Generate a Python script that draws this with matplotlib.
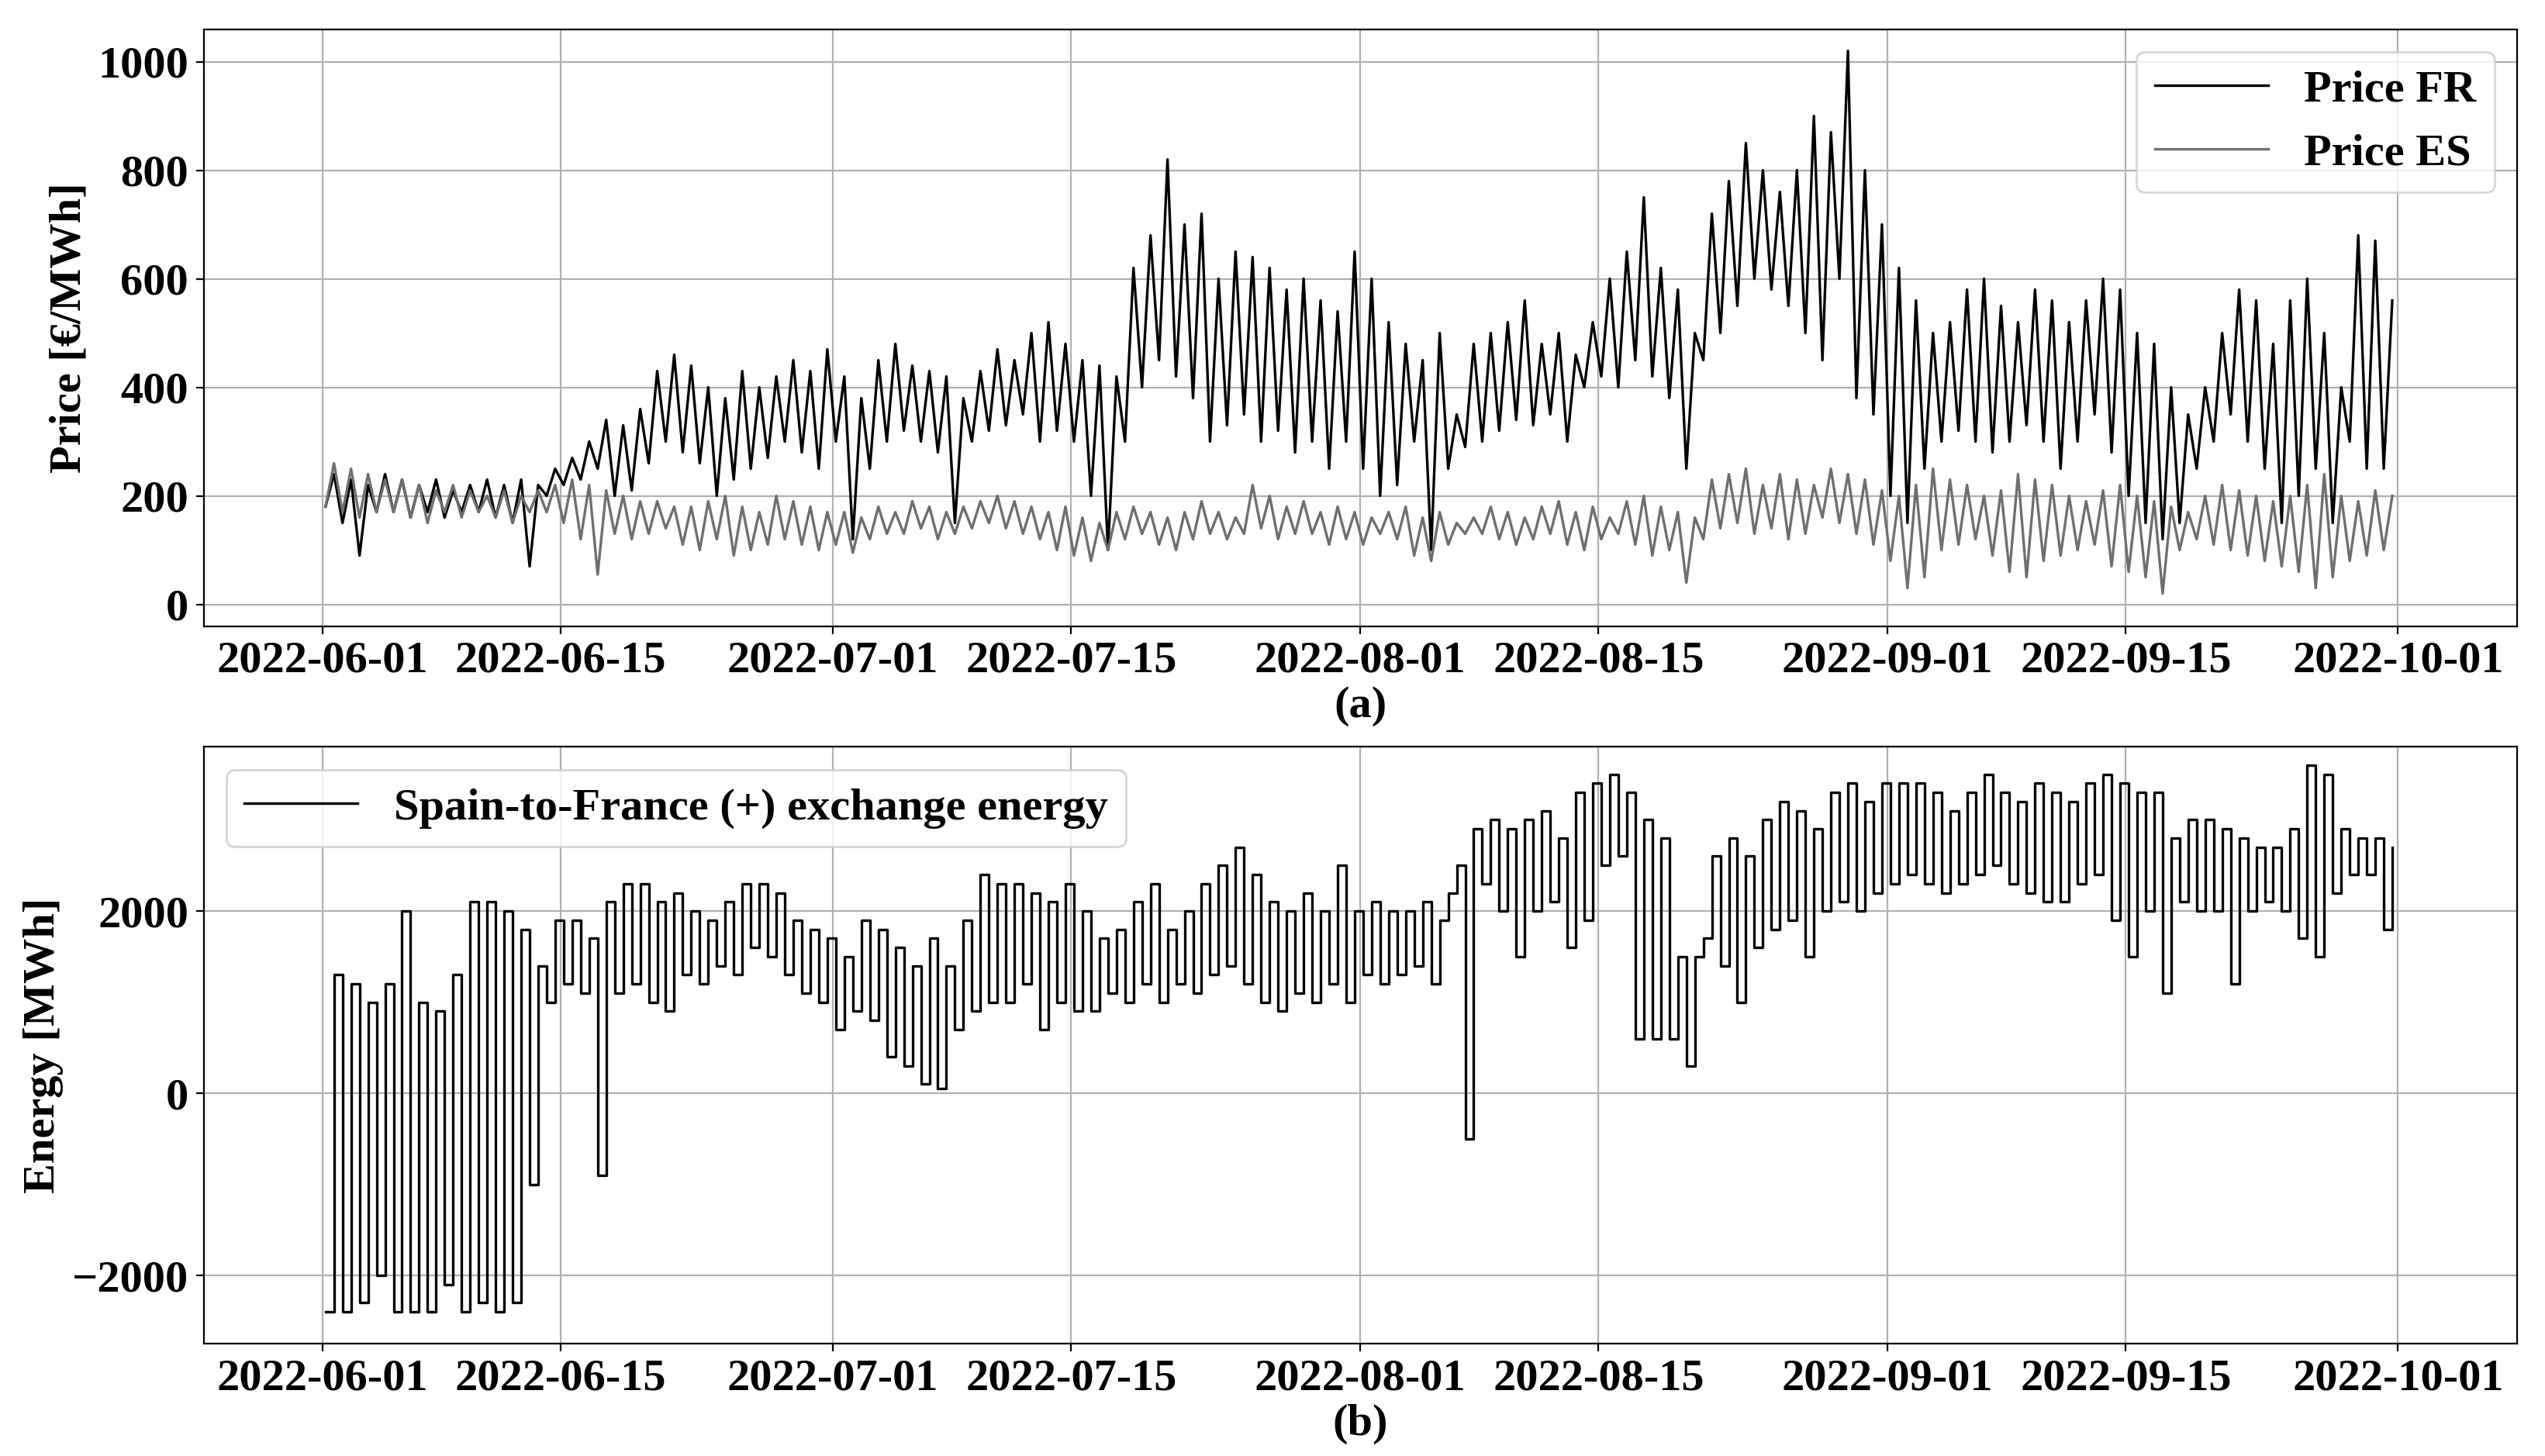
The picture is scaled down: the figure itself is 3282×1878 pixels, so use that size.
import numpy as np
import matplotlib
matplotlib.use("Agg")
import matplotlib.pyplot as plt
import matplotlib.dates as mdates

start = np.datetime64("2022-06-01")
fr_high = [240,230,220,240,230,220,230,210,220,230,220,230,220,250,270,300,340,330,360,430,460,440,400,380,430,400,420,450,430,470,
420,380,450,480,440,430,420,380,430,470,450,500,520,480,450,440,420,620,680,820,700,720,600,650,640,620,580,600,560,540,650,
600,520,480,450,500,350,480,500,520,560,480,500,460,520,600,650,750,620,580,500,720,780,850,800,760,800,900,870,1020,800,700,
620,560,500,520,580,600,550,520,580,560,520,560,600,580,500,480,400,350,400,500,580,560,480,560,600,500,400,680,670,560]
fr_low = [180,150,90,170,170,160,170,160,170,170,160,150,70,200,220,230,250,200,210,260,300,280,260,200,230,250,270,300,280,250,
300,120,250,300,320,300,280,150,300,320,330,350,300,320,300,200,100,300,400,450,420,380,300,330,350,300,320,280,300,250,300,
250,200,220,300,100,250,290,300,320,340,330,350,300,400,420,400,450,420,380,250,450,500,550,600,580,550,500,450,600,380,350,
200,150,250,300,320,300,280,300,330,300,250,300,350,280,200,150,120,150,250,300,350,300,250,150,200,250,150,300,250,250]
es_high = [260,250,240,230,230,220,210,220,210,200,210,200,210,220,230,220,210,200,190,190,180,180,190,200,180,170,200,190,180,170,
170,160,180,170,190,180,170,180,190,200,190,180,170,180,160,150,170,180,170,160,170,190,170,160,220,200,180,190,170,180,170,
160,170,180,160,170,150,160,180,170,160,180,190,170,180,160,190,200,180,170,160,230,240,250,220,240,230,220,250,240,230,210,
200,220,250,230,220,200,210,240,230,220,200,190,210,220,200,190,180,170,200,220,210,200,190,200,220,240,200,190,210,200]
es_low = [180,170,160,170,170,160,150,170,160,170,160,150,170,170,150,120,55,130,120,130,140,110,100,120,90,100,110,120,110,100,
110,95,120,130,130,140,120,130,140,150,140,130,120,100,90,80,100,120,130,110,100,120,130,120,130,140,120,130,130,110,120,
110,130,120,90,80,110,130,130,120,110,120,130,110,100,120,130,110,90,100,40,120,140,150,130,140,120,130,160,150,130,110,
80,30,50,100,110,120,90,60,50,80,90,100,110,70,60,50,20,100,120,110,100,90,80,70,60,30,50,80,90,100]
ex_high = [1300,1200,1000,1200,2000,1000,900,1300,2100,2100,2000,1800,1400,1900,1900,1700,2100,2300,2300,2100,2200,2000,1900,2100,2300,2300,2200,1900,1800,1700,
1500,1900,1800,1600,1400,1700,1400,1900,2400,2300,2300,2200,2100,2300,2000,1700,1800,2100,2300,1800,2000,2300,2500,2700,2400,2100,2000,2200,2000,2500,2000,
2100,2000,2000,2100,1900,2500,2900,3000,2900,3000,3100,2800,3300,3400,3500,3300,3000,2800,1500,1500,2600,2800,2600,3000,3200,3100,2900,3300,3400,3200,3400,
3400,3400,3300,3100,3300,3500,3300,3200,3400,3300,3200,3400,3500,3400,3300,3300,2800,3000,3000,2900,2800,2700,2700,2900,3600,3500,2900,2800,2800,2700]
ex_low = [-2400,-2400,-2300,-2000,-2400,-2400,-2400,-2100,-2400,-2300,-2400,-2300,-1000,1000,1200,1100,-900,1100,1200,1000,900,1300,1200,1400,1300,1600,1500,1300,1100,1000,
700,900,800,400,300,100,50,700,900,1000,1000,1200,700,1000,900,900,1100,1000,1200,1000,1200,1100,1300,1400,1200,1000,900,1100,1000,1200,1000,
1300,1200,1300,1400,1200,2200,-500,2300,2000,1500,2000,2100,1600,1900,2500,2600,600,600,600,300,1700,1400,1000,1600,1800,1900,1500,2000,2100,2000,2200,
2300,2400,2300,2200,2300,2400,2500,2300,2200,2100,2100,2300,2400,1900,1500,2000,1100,2100,2000,2000,1200,2000,2100,2000,1700,1500,2200,2400,2400,1800]
xticks = ["2022-06-01","2022-06-15","2022-07-01","2022-07-15","2022-08-01",
          "2022-08-15","2022-09-01","2022-09-15","2022-10-01"]

def series(lo, hi):
    n = len(lo)
    t = start + (np.arange(2*n) * 12 + 4).astype("timedelta64[h]")
    v = np.empty(2*n); v[0::2] = lo; v[1::2] = hi
    return t.astype("datetime64[ms]").astype(object), v

plt.rcParams['font.family'] = ['Liberation Serif', 'DejaVu Serif']
plt.rcParams['font.weight'] = 'bold'
plt.rcParams['mathtext.fontset'] = 'stix'
fs = 21
fig = plt.figure(figsize=(16.41, 9.39), dpi=200)
ax1 = fig.add_axes([0.080, 0.570, 0.909, 0.410])
ax2 = fig.add_axes([0.080, 0.077, 0.909, 0.410])

t, v = series(fr_low, fr_high)
ax1.plot(t, v, color="black", lw=1.2, label="Price FR")
t, v = series(es_low, es_high)
ax1.plot(t, v, color="#6e6e6e", lw=1.2, label="Price ES")
t, v = series(ex_low, ex_high)
ax2.step(t, v, where="post", color="black", lw=1.2, label="Spain-to-France (+) exchange energy")

ticks = [np.datetime64(s).astype("datetime64[ms]").astype(object) for s in xticks]
for ax in (ax1, ax2):
    ax.set_xticks(ticks)
    ax.xaxis.set_major_formatter(mdates.DateFormatter("%Y-%m-%d"))
    ax.grid(True, color="#b0b0b0", lw=0.8)
    ax.tick_params(labelsize=fs)
    ax.set_xlim(np.datetime64("2022-05-25").astype("datetime64[ms]").astype(object),
                np.datetime64("2022-10-08").astype("datetime64[ms]").astype(object))
    for lab in ax.get_xticklabels() + ax.get_yticklabels():
        lab.set_fontweight("bold")
ax1.set_ylim(-40, 1060)
ax1.set_yticks([0, 200, 400, 600, 800, 1000])
ax2.set_ylim(-2750, 3800)
ax2.set_yticks([-2000, 0, 2000])
ax1.set_ylabel("Price [€/MWh]", fontsize=fs, fontweight="bold")
ax2.set_ylabel("Energy [MWh]", fontsize=fs, fontweight="bold")
ax1.set_xlabel("(a)", fontsize=fs, fontweight="bold", labelpad=2)
ax2.set_xlabel("(b)", fontsize=fs, fontweight="bold", labelpad=2)
ax1.legend(loc="upper right", prop={"size": fs, "weight": "bold"}, handlelength=2.5)
ax2.legend(loc="upper left", prop={"size": fs, "weight": "bold"}, handlelength=2.5)
fig.savefig("out.png", dpi=200)
